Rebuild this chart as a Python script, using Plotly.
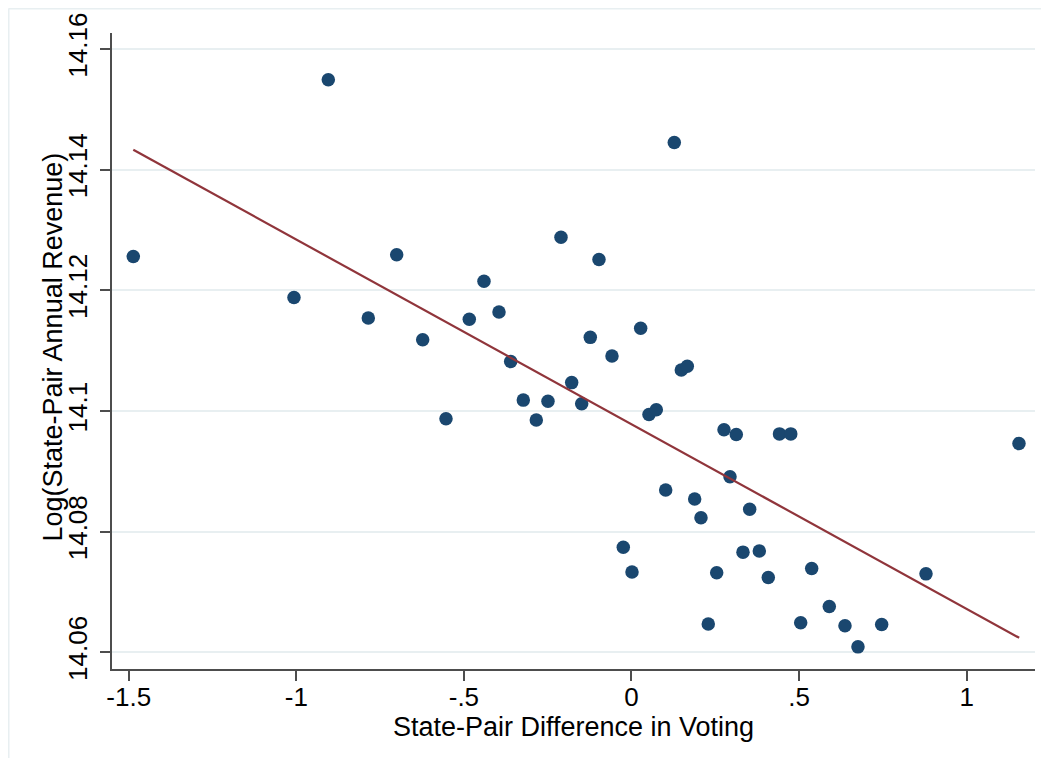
import plotly.graph_objects as go

# Scatter data
vote_diff = [-1.4863, -1.0069, -0.9045, -0.7852, -0.7005, -0.6229, -0.5534, -0.4839,
             -0.4400, -0.3953, -0.3604, -0.3228, -0.2840, -0.2491, -0.2103, -0.1784,
             -0.1486, -0.1229, -0.0970, -0.0582, -0.0245, 0.0015, 0.0274, 0.0522,
             0.0740, 0.1020, 0.1277, 0.1486, 0.1665, 0.1885, 0.2073, 0.2291,
             0.2542, 0.2760, 0.2939, 0.3126, 0.3326, 0.3526, 0.3813, 0.4081,
             0.4415, 0.4752, 0.5048, 0.5376, 0.5901, 0.6369, 0.6757, 0.7464,
             0.8786, 1.1560]
log_revenue = [14.1256, 14.1188, 14.1549, 14.1154, 14.1259, 14.1118, 14.0987, 14.1152,
               14.1215, 14.1164, 14.1082, 14.1018, 14.0985, 14.1016, 14.1288, 14.1047,
               14.1012, 14.1122, 14.1251, 14.1091, 14.0774, 14.0733, 14.1137, 14.0994,
               14.1002, 14.0869, 14.1445, 14.1068, 14.1074, 14.0854, 14.0823, 14.0647,
               14.0732, 14.0969, 14.0891, 14.0961, 14.0766, 14.0837, 14.0768, 14.0724,
               14.0962, 14.0962, 14.0649, 14.0739, 14.0676, 14.0644, 14.0609, 14.0646,
               14.0730, 14.0946]

# Fitted line endpoints
fit_x = [-1.4863, 1.1566]
fit_y = [14.1433, 14.0624]

# Axis ticks
x_tickvals = [-1.5, -1, -0.5, 0, 0.5, 1]
x_ticktext = ["-1.5", "-1", "-.5", "0", ".5", "1"]
y_tickvals = [14.06, 14.08, 14.10, 14.12, 14.14, 14.16]
y_ticktext = ["14.06", "14.08", "14.1", "14.12", "14.14", "14.16"]

x_title = "State-Pair Difference in Voting"
y_title = "Log(State-Pair Annual Revenue)"

FONT = "Liberation Sans, Arial, sans-serif"
AXIS_COLOR = "#4d4d4d"
GRID_COLOR = "#e8eff1"

fig = go.Figure()
fig.add_trace(go.Scatter(
    x=vote_diff, y=log_revenue, mode="markers",
    marker=dict(color="#1a476f", size=13.5, line=dict(width=0)),
    showlegend=False, hoverinfo="x+y"))
fig.add_trace(go.Scatter(
    x=fit_x, y=fit_y, mode="lines",
    line=dict(color="#90353b", width=2.2),
    showlegend=False))

# The page body adds an 8px margin, so the figure is sized/offset to compensate
fig.update_layout(
    width=1033, height=751,
    margin=dict(l=104, r=6, t=25, b=90),
    paper_bgcolor="white", plot_bgcolor="white",
    font=dict(family=FONT, color="black"),
    xaxis=dict(
        range=[-1.5498, 1.2038], tickmode="array",
        tickvals=x_tickvals, ticktext=x_ticktext,
        showgrid=False, zeroline=False, automargin=False,
        showline=True, linecolor=AXIS_COLOR, linewidth=2,
        ticks="outside", ticklen=10, tickwidth=1.6, tickcolor=AXIS_COLOR,
        ticklabelstandoff=-6,
        tickfont=dict(size=26, family=FONT, color="black"),
        title=dict(text=x_title, font=dict(size=27, family=FONT, color="black"), standoff=2),
    ),
    yaxis=dict(
        range=[14.05723, 14.16265], tickmode="array",
        tickvals=y_tickvals, ticktext=y_ticktext,
        showgrid=True, gridcolor=GRID_COLOR, gridwidth=2,
        zeroline=False, automargin=False,
        showline=True, linecolor=AXIS_COLOR, linewidth=2,
        ticks="outside", ticklen=10, tickwidth=1.6, tickcolor=AXIS_COLOR,
        tickangle=-90, ticklabelstandoff=3,
        tickfont=dict(size=26, family=FONT, color="black"),
    ),
    annotations=[dict(
        text=y_title, textangle=-90, xref="paper", yref="paper",
        x=-0.065, y=0.5055, xanchor="center", yanchor="middle",
        showarrow=False, font=dict(size=27, family=FONT, color="black"))],
    shapes=[
        dict(type="line", xref="paper", yref="paper",
             x0=-0.1121, x1=1.0065, y0=1.0385, y1=1.0385,
             line=dict(color=GRID_COLOR, width=2), layer="below"),
        dict(type="line", xref="paper", yref="paper",
             x0=-0.1121, x1=-0.1121, y0=-0.14, y1=1.0385,
             line=dict(color=GRID_COLOR, width=2), layer="below"),
    ],
)

fig.write_html("out.html")
